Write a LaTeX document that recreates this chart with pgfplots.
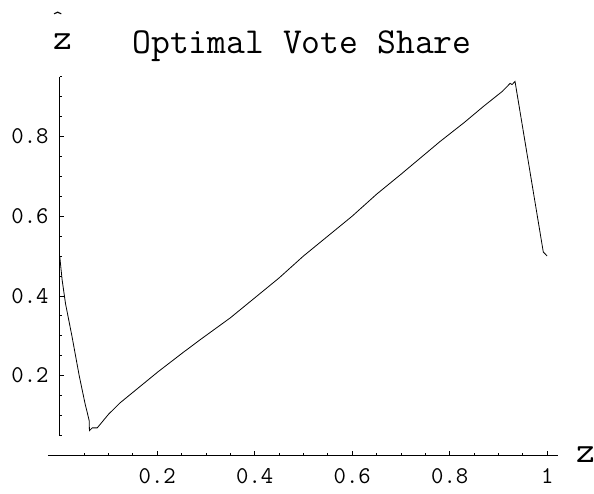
\documentclass[border=0pt]{standalone}
\usepackage{fontspec}
\usepackage{pgfplots}
\pgfplotsset{compat=1.18}
\begin{document}
\begin{tikzpicture}[x=1pt,y=1pt]
\useasboundingbox (-48,-36) rectangle (546,457);
\begin{axis}[
  at={(0,0)}, anchor=south west,
  scale only axis, width=510.4pt, height=380.4pt,
  xmin=-0.024, xmax=1.023, ymin=-0.004, ymax=0.95,
  axis lines=middle,
  axis line style={-, line width=0.9pt, black},
  y axis line style={shorten <=21.4pt},
  clip=false,
  xtick={0.2,0.4,0.6,0.8,1},
  ytick={0.2,0.4,0.6,0.8},
  minor xtick={0.05,0.1,0.15,0.25,0.3,0.35,0.45,0.5,0.55,0.65,0.7,0.75,0.85,0.9,0.95},
  minor ytick={0.05,0.1,0.15,0.25,0.3,0.35,0.45,0.5,0.55,0.65,0.7,0.75,0.85,0.9,0.95},
  tick align=inside,
  major tick length=4.5pt, minor tick length=2.5pt,
  tick style={black, line width=0.8pt},
  /pgf/number format/assume math mode=true,
  ticklabel style={font=\ttfamily\fontsize{24}{28}\selectfont},
  xticklabel style={anchor=north, inner sep=0pt, yshift=-13pt},
  yticklabel style={anchor=east, inner sep=0pt, xshift=-11pt},
]
\addplot[black, line width=0.8pt] coordinates {
(0,0.5) (0.005,0.44) (0.012,0.38) (0.025,0.30) (0.04,0.20) (0.052,0.13)
(0.058,0.10) (0.0605,0.087) (0.061,0.062) (0.0667,0.069) (0.077,0.069)
(0.1,0.103) (0.124,0.132) (0.16,0.168) (0.202,0.21) (0.253,0.258)
(0.288,0.29) (0.35,0.345) (0.4,0.395) (0.45,0.445) (0.5,0.5) (0.55,0.55)
(0.6,0.6) (0.65,0.655) (0.7,0.705) (0.78,0.787) (0.83,0.835) (0.869,0.875)
(0.908,0.913) (0.924,0.933) (0.928,0.930) (0.934,0.938) (0.992,0.51) (1.0,0.5)
};
\node[font=\ttfamily\fontsize{36.6}{40}\selectfont, anchor=base, inner sep=0pt] at (axis cs:0.497,1.009) {Optimal Vote Share};
\node[font=\ttfamily\fontsize{36.6}{40}\selectfont, anchor=base, inner sep=0pt] at (axis cs:0.006,1.017) {\makebox[0pt][l]{\hspace{-0.6pt}\raisebox{25.5pt}{\fontsize{20}{22}\selectfont\textasciicircum}}z};
\node[font=\ttfamily\fontsize{36.6}{40}\selectfont, inner sep=0pt] at (axis cs:1.079,0.002) {z};
\end{axis}
\end{tikzpicture}
\end{document}
